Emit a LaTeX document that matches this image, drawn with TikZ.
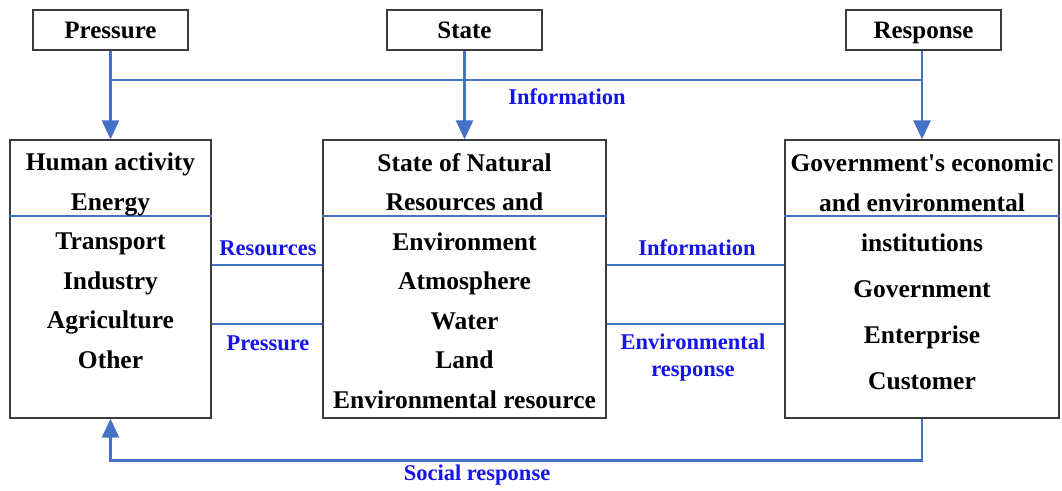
\documentclass[tikz,border=0pt]{standalone}
\usepackage{fontspec}
\setmainfont{Liberation Serif}[Ligatures=TeXOff]
\usetikzlibrary{arrows.meta}
\definecolor{lineblue}{RGB}{68,114,196}
\definecolor{lblblue}{RGB}{20,20,235}
\definecolor{boxgray}{RGB}{60,60,60}
\tikzset{
  topbox/.style={draw=boxgray, line width=1.3pt, minimum width=155pt, minimum height=40pt, inner sep=0pt, text height=19pt, text depth=2pt, font=\fontsize{25}{30}\selectfont\bfseries},
  bigbox/.style={draw=boxgray, line width=1.3pt, minimum height=278pt, inner sep=0pt},
  txt/.style={align=center, inner sep=0pt, font=\fontsize{25.5}{39.5}\selectfont\bfseries},
  lbl/.style={align=center, inner sep=0pt, text=lblblue, font=\fontsize{22.5}{27}\selectfont\bfseries},
  conn/.style={draw=lineblue, line width=2.6pt},
  arr/.style={conn, -{Triangle[width=17pt,length=19pt]}},
  divider/.style={draw=lineblue, line width=2pt},
}
\begin{document}
\begin{tikzpicture}[x=1pt,y=-1pt]
\useasboundingbox (0,0) rectangle (1062,490);
% top boxes
\node[topbox] (press) at (110.5,30) {Pressure};
\node[topbox] (state) at (464.5,30) {State};
\node[topbox] (resp) at (923.5,30) {Response};
% big boxes
\node[bigbox, minimum width=201pt] (hum) at (110.5,279) {};
\node[bigbox, minimum width=283pt] (mid) at (464.5,279) {};
\node[bigbox, minimum width=274pt] (gov) at (922,279) {};
% dividers
\draw[divider] ([yshift=-77pt]hum.north west) -- ([yshift=-77pt]hum.north east);
\draw[divider] ([yshift=-77pt]mid.north west) -- ([yshift=-77pt]mid.north east);
\draw[divider] ([yshift=-77pt]gov.north west) -- ([yshift=-77pt]gov.north east);
% box texts
\node[txt] (humtxt) at (110.5,261) {Human activity\\Energy\\Transport\\Industry\\Agriculture\\Other};
\node[txt] (midtxt) at (464.5,281) {State of Natural\\Resources and\\Environment\\Atmosphere\\Water\\Land\\Environmental resource};
\node[txt, font=\fontsize{25.5}{40}\selectfont\bfseries] (govtxt) at (922,272) {Government's economic\\and environmental\\institutions\\[6pt]Government\\[6pt]Enterprise\\[6pt]Customer};
% information arrows
\coordinate (infoy) at (0,80);
\draw[arr] (press.south) -- (hum.north);
\draw[arr] (state.south) -- (mid.north);
\draw[arr] (resp.south -| gov.north) -- (gov.north);
\draw[conn] (press.south |- infoy) -- (gov.north |- infoy);
\node[lbl] (infolbl) at (567,97) {Information};
% horizontal connectors
\draw[conn] ([yshift=14pt]hum.east) -- ([yshift=14pt]mid.west);
\draw[conn] ([yshift=-45pt]hum.east) -- ([yshift=-45pt]mid.west);
\draw[conn] ([yshift=14pt]mid.east) -- ([yshift=14pt]gov.west);
\draw[conn] ([yshift=-45pt]mid.east) -- ([yshift=-45pt]gov.west);
\node[lbl] (reslbl) at (268,248) {Resources};
\node[lbl] (preslbl) at (268,343) {Pressure};
\node[lbl] (info2lbl) at (697,248) {Information};
\node[lbl] (envlbl) at (693,358) {Environmental\\response};
% social response
\draw[arr] (gov.south) -- ++(0,42) -| (hum.south);
\node[lbl] (soclbl) at (477,475) {Social response};
\end{tikzpicture}
\end{document}
